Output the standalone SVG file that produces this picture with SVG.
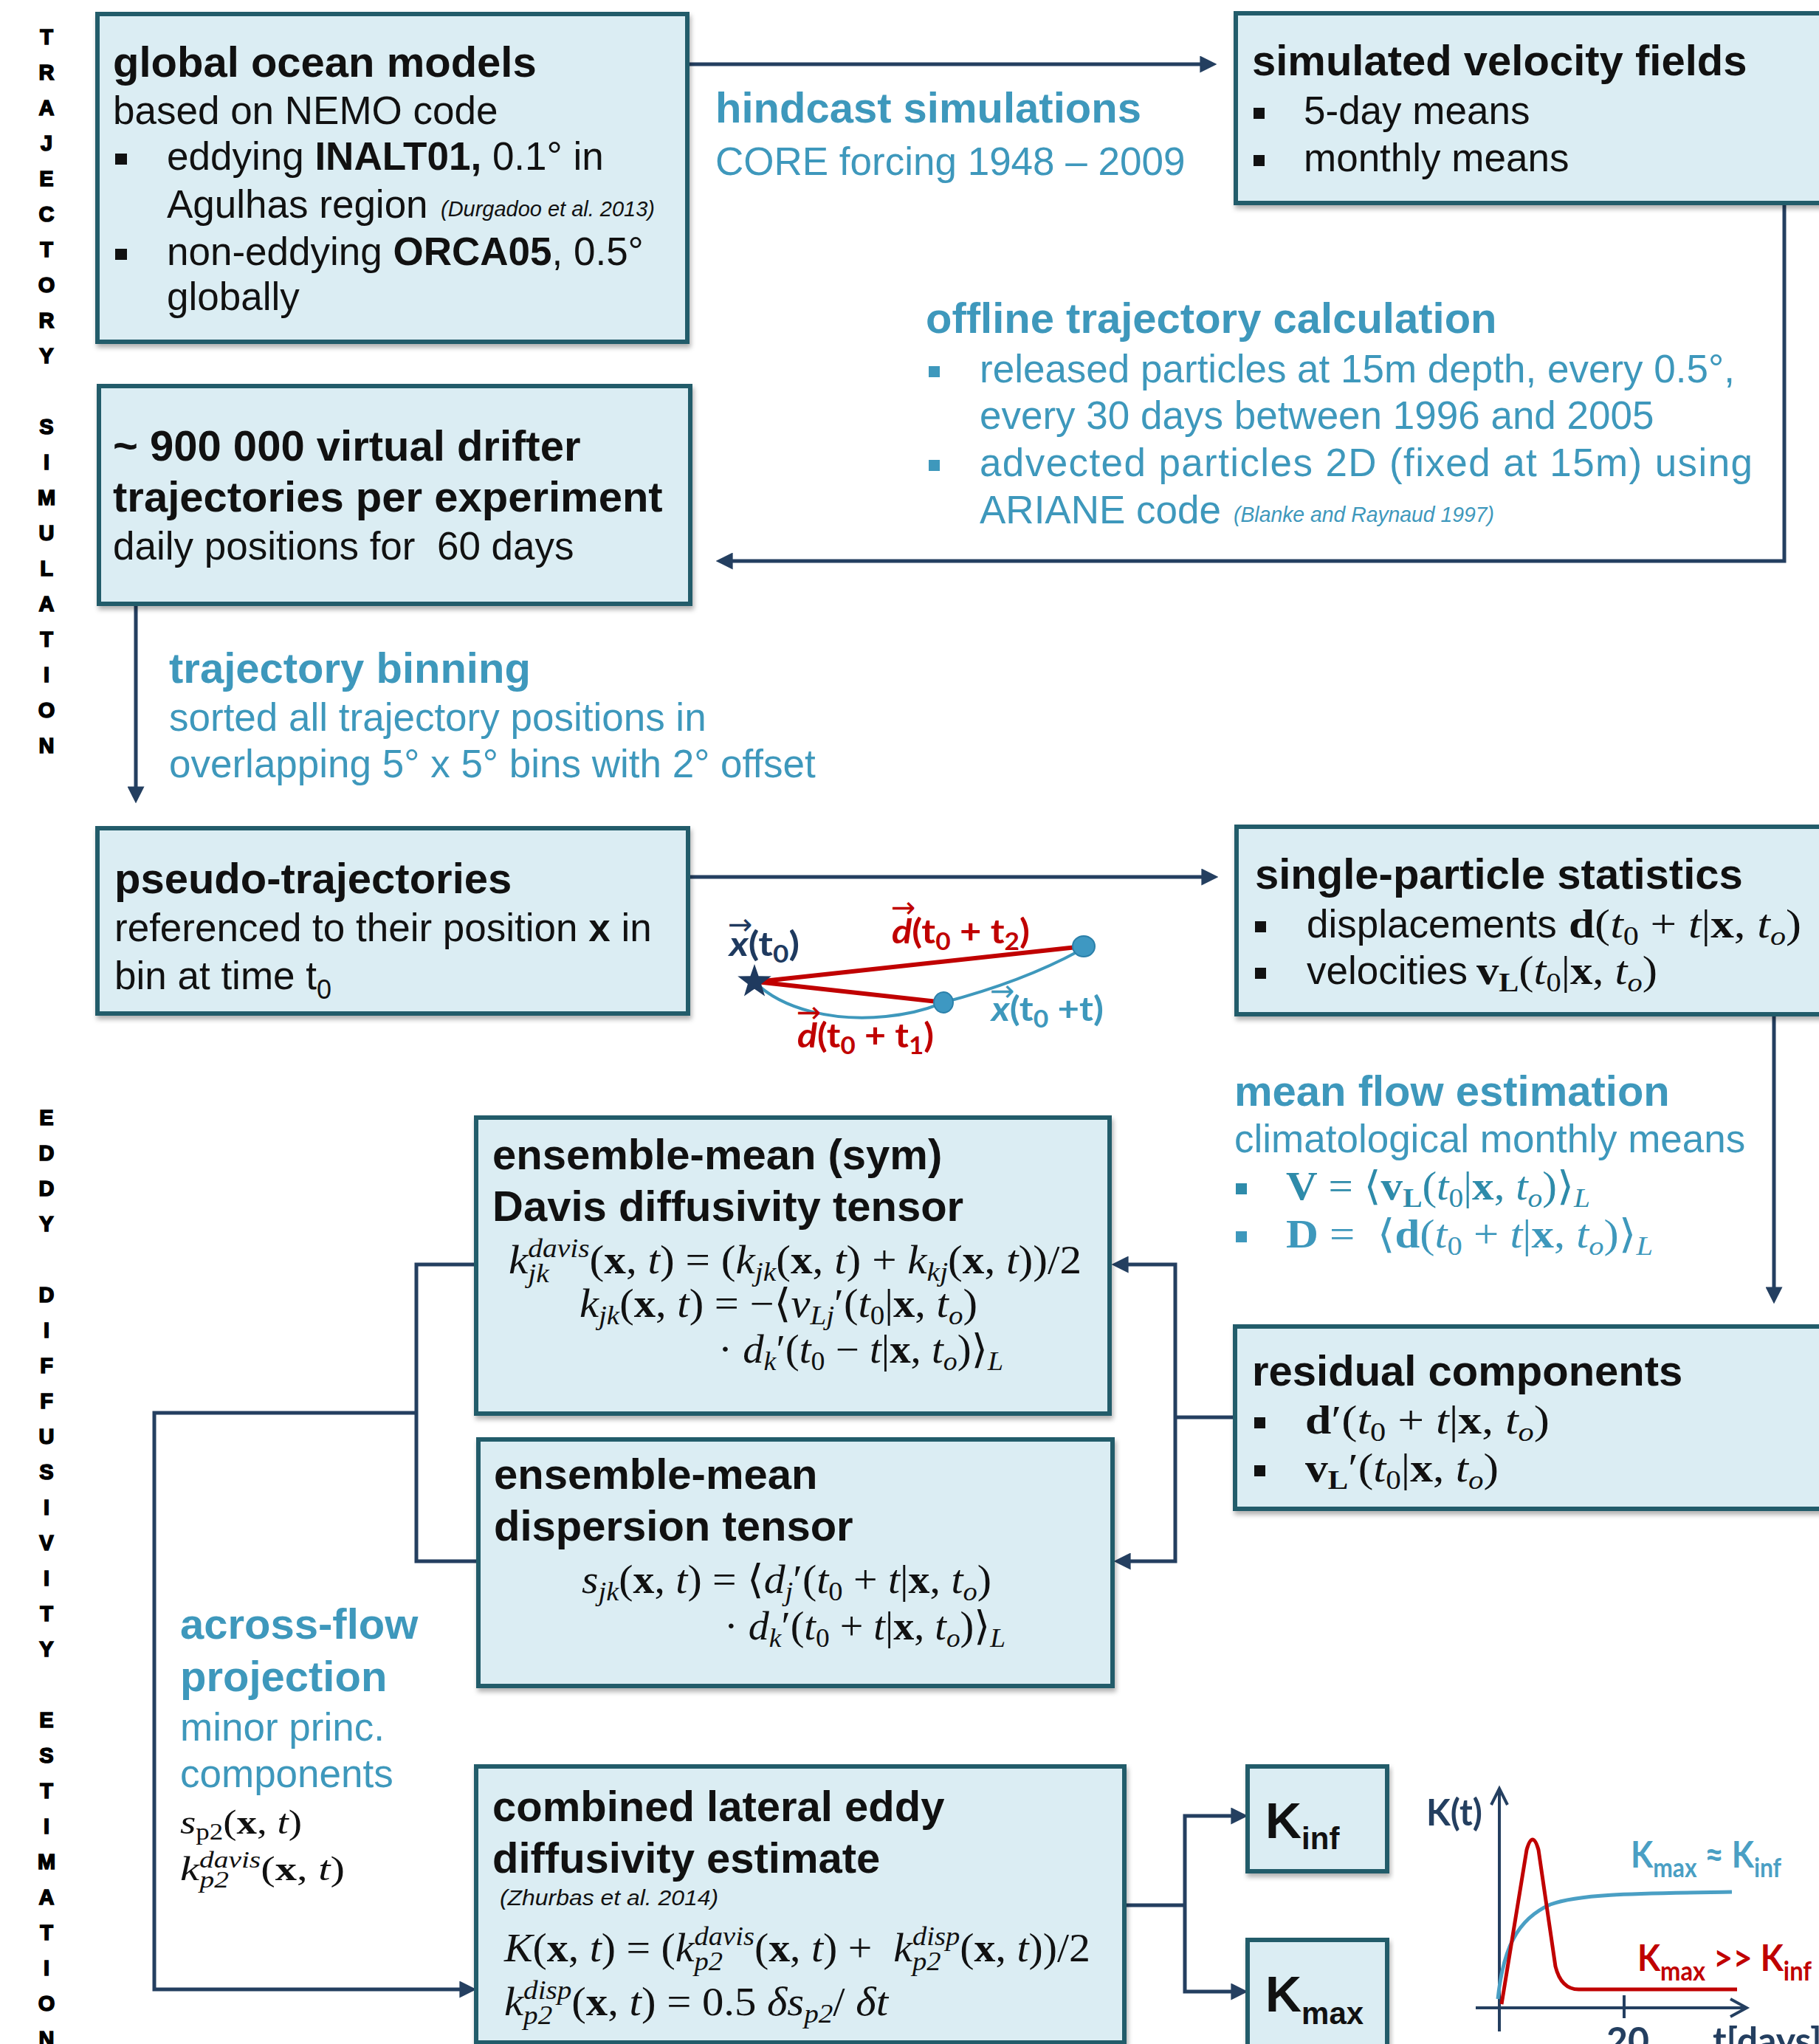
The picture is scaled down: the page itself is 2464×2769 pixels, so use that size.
<svg xmlns="http://www.w3.org/2000/svg" width="2464" height="2769" viewBox="0 0 2464 2769">
<defs>
<style>
.box{fill:#DBEDF3;stroke:#245B6A;stroke-width:6;filter:url(#sh)}
.h{font-family:"Liberation Sans",Arial,sans-serif;font-weight:bold;font-size:58px;fill:#111}
.t{font-family:"Liberation Sans",Arial,sans-serif;font-size:53px;fill:#111}
.bh{font-family:"Liberation Sans",Arial,sans-serif;font-weight:bold;font-size:58px;fill:#3E98BC}
.bt{font-family:"Liberation Sans",Arial,sans-serif;font-size:53px;fill:#3E98BC}
.cit{font-family:"Liberation Sans",Arial,sans-serif;font-style:italic;font-size:30px}
.m{font-family:"Liberation Serif","DejaVu Serif",serif;font-size:54px;fill:#111}
.i{font-style:italic}
.bd{font-weight:bold}
.sm{font-size:36px}
.sec{font-family:"Liberation Sans",Arial,sans-serif;font-weight:bold;font-size:29px;fill:#000;stroke:#000;stroke-width:1.6;text-anchor:middle}
.con{fill:none;stroke:#243F60;stroke-width:5}
.arr{marker-end:url(#ah)}
.lab{font-family:Lato,"Open Sans",sans-serif;font-weight:bold}
.acc{font-family:"DejaVu Sans",sans-serif;font-size:40px}
.bul{fill:#111}
.bbul{fill:#3E98BC}
</style>
<filter id="sh" x="-3%" y="-3%" width="108%" height="115%"><feDropShadow dx="2" dy="5" stdDeviation="3" flood-color="#000" flood-opacity="0.3"/></filter>
<marker id="ah" viewBox="0 0 10 10" refX="2" refY="5" markerWidth="4.6" markerHeight="4.6" orient="auto" markerUnits="strokeWidth"><path d="M0,0 L10,5 L0,10 z" fill="#243F60"/></marker>
</defs>
<rect width="2464" height="2769" fill="#fff"/>

<g id="section-labels">
<text class="sec"><tspan x="63" y="60">T</tspan><tspan x="63" y="108">R</tspan><tspan x="63" y="156">A</tspan><tspan x="63" y="204">J</tspan><tspan x="63" y="252">E</tspan><tspan x="63" y="300">C</tspan><tspan x="63" y="348">T</tspan><tspan x="63" y="396">O</tspan><tspan x="63" y="444">R</tspan><tspan x="63" y="492">Y</tspan></text>
<text class="sec"><tspan x="63" y="588">S</tspan><tspan x="63" y="636">I</tspan><tspan x="63" y="684">M</tspan><tspan x="63" y="732">U</tspan><tspan x="63" y="780">L</tspan><tspan x="63" y="828">A</tspan><tspan x="63" y="876">T</tspan><tspan x="63" y="924">I</tspan><tspan x="63" y="972">O</tspan><tspan x="63" y="1020">N</tspan></text>
<text class="sec"><tspan x="63" y="1524">E</tspan><tspan x="63" y="1572">D</tspan><tspan x="63" y="1620">D</tspan><tspan x="63" y="1668">Y</tspan></text>
<text class="sec"><tspan x="63" y="1764">D</tspan><tspan x="63" y="1812">I</tspan><tspan x="63" y="1860">F</tspan><tspan x="63" y="1908">F</tspan><tspan x="63" y="1956">U</tspan><tspan x="63" y="2004">S</tspan><tspan x="63" y="2052">I</tspan><tspan x="63" y="2100">V</tspan><tspan x="63" y="2148">I</tspan><tspan x="63" y="2196">T</tspan><tspan x="63" y="2244">Y</tspan></text>
<text class="sec"><tspan x="63" y="2340">E</tspan><tspan x="63" y="2388">S</tspan><tspan x="63" y="2436">T</tspan><tspan x="63" y="2484">I</tspan><tspan x="63" y="2532">M</tspan><tspan x="63" y="2580">A</tspan><tspan x="63" y="2628">T</tspan><tspan x="63" y="2676">I</tspan><tspan x="63" y="2724">O</tspan><tspan x="63" y="2772">N</tspan></text>
</g>

<g id="connectors">
<path class="con arr" d="M931,87 H1630"/>
<path class="con arr" d="M2417,275 V760 H988"/>
<path class="con arr" d="M184,818 V1070"/>
<path class="con arr" d="M932,1188 H1632"/>
<path class="con arr" d="M2403,1374 V1748"/>
<path class="con" d="M1673,1920 H1592"/>
<path class="con arr" d="M1592,1920 V1713 H1524"/>
<path class="con arr" d="M1592,1920 V2115 H1527"/>
<path class="con" d="M645,1713 H564 V2115 H648"/>
<path class="con arr" d="M564,1914 H209 V2695 H627"/>
<path class="con" d="M1523,2581 H1605"/>
<path class="con arr" d="M1605,2581 V2460 H1672"/>
<path class="con arr" d="M1605,2581 V2698 H1672"/>
</g>

<g id="n-global">
<rect class="box" x="132" y="19" width="799" height="444"/>
<text class="h" x="153" y="104">global ocean models</text>
<text class="t" x="153" y="168">based on NEMO code</text>
<rect class="bul" x="156" y="208" width="16" height="15"/>
<text class="t" x="226" y="230">eddying <tspan font-weight="bold">INALT01,</tspan> 0.1° in</text>
<text class="t" x="226" y="295">Agulhas region</text>
<text class="cit" x="597" y="293" fill="#111" textLength="290" lengthAdjust="spacingAndGlyphs">(Durgadoo et al. 2013)</text>
<rect class="bul" x="156" y="337" width="16" height="15"/>
<text class="t" x="226" y="359">non-eddying <tspan font-weight="bold">ORCA05</tspan>, 0.5°</text>
<text class="t" x="226" y="420">globally</text>
</g>

<g id="l-hindcast">
<text class="bh" x="969" y="166">hindcast simulations</text>
<text class="bt" x="969" y="237">CORE forcing 1948 – 2009</text>
</g>

<g id="n-velocity">
<rect class="box" x="1674" y="18" width="830" height="257"/>
<text class="h" x="1696" y="102">simulated velocity fields</text>
<rect class="bul" x="1698" y="146" width="15" height="15"/>
<text class="t" x="1766" y="168">5-day means</text>
<rect class="bul" x="1698" y="210" width="15" height="15"/>
<text class="t" x="1766" y="232">monthly means</text>
</g>

<g id="l-offline">
<text class="bh" x="1254" y="451">offline trajectory calculation</text>
<rect class="bbul" x="1258" y="496" width="15" height="15"/>
<text class="bt" x="1327" y="518">released particles at 15m depth, every 0.5°,</text>
<text class="bt" x="1327" y="581">every 30 days between 1996 and 2005</text>
<rect class="bbul" x="1258" y="623" width="15" height="15"/>
<text class="bt" x="1327" y="645" textLength="1047" lengthAdjust="spacing">advected particles 2D (fixed at 15m) using</text>
<text class="bt" x="1327" y="709">ARIANE code</text>
<text class="cit" x="1671" y="707" fill="#3E98BC" textLength="353" lengthAdjust="spacingAndGlyphs">(Blanke and Raynaud 1997)</text>
</g>

<g id="n-drifters">
<rect class="box" x="134" y="523" width="801" height="295"/>
<text class="h" x="153" y="624">~ 900 000 virtual drifter</text>
<text class="h" x="153" y="693">trajectories per experiment</text>
<text class="t" x="153" y="758">daily positions for &#160;60 days</text>
</g>

<g id="l-binning">
<text class="bh" x="229" y="925">trajectory binning</text>
<text class="bt" x="229" y="990">sorted all trajectory positions in</text>
<text class="bt" x="229" y="1053">overlapping 5° x 5° bins with 2° offset</text>
</g>

<g id="n-pseudo">
<rect class="box" x="132" y="1122" width="800" height="251"/>
<text class="h" x="155" y="1210">pseudo-trajectories</text>
<text class="t" x="155" y="1275">referenced to their position <tspan font-weight="bold">x</tspan> in</text>
<text class="t" x="155" y="1340">bin at time t<tspan font-size="36" dy="13">0</tspan></text>
</g>

<g id="sketch">
<path d="M1025,1330 L1468,1282" stroke="#C00000" stroke-width="6" fill="none"/>
<path d="M1025,1330 L1278,1358" stroke="#C00000" stroke-width="6" fill="none"/>
<path d="M1022,1330 C1060,1368 1130,1384 1200,1377 C1240,1373 1262,1365 1278,1358 Q1385,1330 1462,1288" stroke="#3E98BC" stroke-width="4" fill="none"/>
<ellipse cx="1468" cy="1282" rx="15" ry="14" fill="#3E98C2" stroke="#2B80AA" stroke-width="2"/>
<ellipse cx="1278" cy="1358" rx="13" ry="14" fill="#3E98C2" stroke="#2B80AA" stroke-width="2"/>
<path d="M1022,1306 L1027.6,1322.3 L1044.8,1322.6 L1031.1,1333 L1036.1,1349.5 L1022,1339.7 L1007.9,1349.5 L1012.9,1333 L999.2,1322.6 L1016.4,1322.3 Z" fill="#1F3A5F"/>
<text class="acc" x="986" y="1266" fill="#1F3A5F">→</text>
<text class="lab" x="988" y="1295" font-size="46" fill="#1F3A5F" textLength="95" lengthAdjust="spacingAndGlyphs"><tspan font-style="italic">x</tspan>(t<tspan font-size="32" dy="9">0</tspan><tspan dy="-9">)</tspan></text>
<text class="acc" x="1207" y="1243" fill="#C00000">→</text>
<text class="lab" x="1208" y="1278" font-size="46" fill="#C00000" textLength="187" lengthAdjust="spacingAndGlyphs"><tspan font-style="italic">d</tspan>(t<tspan font-size="32" dy="9">0</tspan><tspan dy="-9"> + t</tspan><tspan font-size="32" dy="9">2</tspan><tspan dy="-9">)</tspan></text>
<text class="acc" x="1079" y="1385" fill="#C00000">→</text>
<text class="lab" x="1080" y="1419" font-size="46" fill="#C00000" textLength="185" lengthAdjust="spacingAndGlyphs"><tspan font-style="italic">d</tspan>(t<tspan font-size="32" dy="9">0</tspan><tspan dy="-9"> + t</tspan><tspan font-size="32" dy="9">1</tspan><tspan dy="-9">)</tspan></text>
<text class="acc" x="1341" y="1356" fill="#3E98BC">→</text>
<text class="lab" x="1343" y="1383" font-size="46" fill="#3E98BC" textLength="152" lengthAdjust="spacingAndGlyphs"><tspan font-style="italic">x</tspan>(t<tspan font-size="32" dy="9">0</tspan><tspan dy="-9"> +t)</tspan></text>
</g>

<g id="n-single">
<rect class="box" x="1675" y="1120" width="830" height="254"/>
<text class="h" x="1700" y="1204">single-particle statistics</text>
<rect class="bul" x="1700" y="1248" width="15" height="15"/>
<text class="t" x="1770" y="1270">displacements</text>
<text class="m" x="2125" y="1270" textLength="315" lengthAdjust="spacingAndGlyphs"><tspan class="bd">d</tspan>(<tspan class="i">t</tspan><tspan class="sm" dy="10">0</tspan><tspan dy="-10"> + </tspan><tspan class="i">t</tspan>|<tspan class="bd">x</tspan>, <tspan class="i">t</tspan><tspan class="i sm" dy="10">o</tspan><tspan dy="-10">)</tspan></text>
<rect class="bul" x="1700" y="1311" width="15" height="15"/>
<text class="t" x="1770" y="1333">velocities</text>
<text class="m" x="2000" y="1333" textLength="245" lengthAdjust="spacingAndGlyphs"><tspan class="bd">v</tspan><tspan class="bd sm" dy="10">L</tspan><tspan dy="-10">(</tspan><tspan class="i">t</tspan><tspan class="sm" dy="10">0</tspan><tspan dy="-10">|</tspan><tspan class="bd">x</tspan>, <tspan class="i">t</tspan><tspan class="i sm" dy="10">o</tspan><tspan dy="-10">)</tspan></text>
</g>

<g id="l-meanflow">
<text class="bh" x="1672" y="1498">mean flow estimation</text>
<text class="bt" x="1672" y="1561">climatological monthly means</text>
<rect x="1674" y="1603" width="15" height="15" fill="#2E8BAA"/>
<text class="m" x="1742" y="1625" style="fill:#2E8BAA" textLength="412" lengthAdjust="spacingAndGlyphs"><tspan class="bd">V</tspan> = ⟨<tspan class="bd">v</tspan><tspan class="bd sm" dy="10">L</tspan><tspan dy="-10">(</tspan><tspan class="i">t</tspan><tspan class="sm" dy="10">0</tspan><tspan dy="-10">|</tspan><tspan class="bd">x</tspan>, <tspan class="i">t</tspan><tspan class="i sm" dy="10">o</tspan><tspan dy="-10">)⟩</tspan><tspan class="i sm" dy="10">L</tspan></text>
<rect class="bbul" x="1674" y="1668" width="15" height="15"/>
<text class="m" x="1742" y="1690" style="fill:#3E98BC" textLength="497" lengthAdjust="spacingAndGlyphs"><tspan class="bd">D</tspan> = &#160;⟨<tspan class="bd">d</tspan>(<tspan class="i">t</tspan><tspan class="sm" dy="10">0</tspan><tspan dy="-10"> + </tspan><tspan class="i">t</tspan>|<tspan class="bd">x</tspan>, <tspan class="i">t</tspan><tspan class="i sm" dy="10">o</tspan><tspan dy="-10">)⟩</tspan><tspan class="i sm" dy="10">L</tspan></text>
</g>

<g id="n-residual">
<rect class="box" x="1673" y="1797" width="830" height="247"/>
<text class="h" x="1696" y="1877">residual components</text>
<rect class="bul" x="1699" y="1920" width="15" height="15"/>
<text class="m" x="1768" y="1942" textLength="331" lengthAdjust="spacingAndGlyphs"><tspan class="bd">d</tspan>′(<tspan class="i">t</tspan><tspan class="sm" dy="10">0</tspan><tspan dy="-10"> + </tspan><tspan class="i">t</tspan>|<tspan class="bd">x</tspan>, <tspan class="i">t</tspan><tspan class="i sm" dy="10">o</tspan><tspan dy="-10">)</tspan></text>
<rect class="bul" x="1699" y="1985" width="15" height="15"/>
<text class="m" x="1768" y="2007" textLength="262" lengthAdjust="spacingAndGlyphs"><tspan class="bd">v</tspan><tspan class="bd sm" dy="10">L</tspan><tspan dy="-10">′(</tspan><tspan class="i">t</tspan><tspan class="sm" dy="10">0</tspan><tspan dy="-10">|</tspan><tspan class="bd">x</tspan>, <tspan class="i">t</tspan><tspan class="i sm" dy="10">o</tspan><tspan dy="-10">)</tspan></text>
</g>

<g id="n-davis">
<rect class="box" x="645" y="1514" width="858" height="401"/>
<text class="h" x="667" y="1584">ensemble-mean (sym)</text>
<text class="h" x="667" y="1654">Davis diffusivity tensor</text>
<text class="m" x="689" y="1725" textLength="776" lengthAdjust="spacingAndGlyphs"><tspan class="i">k</tspan><tspan class="i sm" dy="-22">davis</tspan><tspan class="i sm" dx="-76" dy="34">jk</tspan><tspan dx="50" dy="-12">(</tspan><tspan class="bd">x</tspan>, <tspan class="i">t</tspan>) = (<tspan class="i">k</tspan><tspan class="i sm" dy="10">jk</tspan><tspan dy="-10">(</tspan><tspan class="bd">x</tspan>, <tspan class="i">t</tspan>) + <tspan class="i">k</tspan><tspan class="i sm" dy="10">kj</tspan><tspan dy="-10">(</tspan><tspan class="bd">x</tspan>, <tspan class="i">t</tspan>))/2</text>
<text class="m" x="785" y="1784" textLength="539" lengthAdjust="spacingAndGlyphs"><tspan class="i">k</tspan><tspan class="i sm" dy="10">jk</tspan><tspan dy="-10">(</tspan><tspan class="bd">x</tspan>, <tspan class="i">t</tspan>) = −⟨<tspan class="i">v</tspan><tspan class="i sm" dy="10">Lj</tspan><tspan dy="-10">′(</tspan><tspan class="i">t</tspan><tspan class="sm" dy="10">0</tspan><tspan dy="-10">|</tspan><tspan class="bd">x</tspan>, <tspan class="i">t</tspan><tspan class="i sm" dy="10">o</tspan><tspan dy="-10">)</tspan></text>
<text class="m" x="973" y="1846" textLength="386" lengthAdjust="spacingAndGlyphs">· <tspan class="i">d</tspan><tspan class="i sm" dy="10">k</tspan><tspan dy="-10">′(</tspan><tspan class="i">t</tspan><tspan class="sm" dy="10">0</tspan><tspan dy="-10"> − </tspan><tspan class="i">t</tspan>|<tspan class="bd">x</tspan>, <tspan class="i">t</tspan><tspan class="i sm" dy="10">o</tspan><tspan dy="-10">)⟩</tspan><tspan class="i sm" dy="10">L</tspan></text>
</g>

<g id="n-dispersion">
<rect class="box" x="648" y="1950" width="859" height="334"/>
<text class="h" x="669" y="2017">ensemble-mean</text>
<text class="h" x="669" y="2087">dispersion tensor</text>
<text class="m" x="788" y="2158" textLength="555" lengthAdjust="spacingAndGlyphs"><tspan class="i">s</tspan><tspan class="i sm" dy="10">jk</tspan><tspan dy="-10">(</tspan><tspan class="bd">x</tspan>, <tspan class="i">t</tspan>) = ⟨<tspan class="i">d</tspan><tspan class="i sm" dy="10">j</tspan><tspan dy="-10">′(</tspan><tspan class="i">t</tspan><tspan class="sm" dy="10">0</tspan><tspan dy="-10"> + </tspan><tspan class="i">t</tspan>|<tspan class="bd">x</tspan>, <tspan class="i">t</tspan><tspan class="i sm" dy="10">o</tspan><tspan dy="-10">)</tspan></text>
<text class="m" x="981" y="2221" textLength="381" lengthAdjust="spacingAndGlyphs">· <tspan class="i">d</tspan><tspan class="i sm" dy="10">k</tspan><tspan dy="-10">′(</tspan><tspan class="i">t</tspan><tspan class="sm" dy="10">0</tspan><tspan dy="-10"> + </tspan><tspan class="i">t</tspan>|<tspan class="bd">x</tspan>, <tspan class="i">t</tspan><tspan class="i sm" dy="10">o</tspan><tspan dy="-10">)⟩</tspan><tspan class="i sm" dy="10">L</tspan></text>
</g>

<g id="l-acrossflow">
<text class="bh" x="244" y="2220">across-flow</text>
<text class="bh" x="244" y="2291">projection</text>
<text class="bt" x="244" y="2358">minor princ.</text>
<text class="bt" x="244" y="2421">components</text>
<text class="m" x="244" y="2484" style="font-size:46px" textLength="165" lengthAdjust="spacingAndGlyphs"><tspan class="i">s</tspan><tspan dy="8" style="font-size:31px">p2</tspan><tspan dy="-8">(</tspan><tspan class="bd">x</tspan>, <tspan class="i">t</tspan>)</text>
<text class="m" x="244" y="2547" style="font-size:46px" textLength="223" lengthAdjust="spacingAndGlyphs"><tspan class="i">k</tspan><tspan class="i" style="font-size:31px" dy="-17">davis</tspan><tspan class="i" style="font-size:31px" dx="-65" dy="27">p2</tspan><tspan dx="34" dy="-10">(</tspan><tspan class="bd">x</tspan>, <tspan class="i">t</tspan>)</text>
</g>

<g id="n-combined">
<rect class="box" x="645" y="2393" width="878" height="374"/>
<text class="h" x="667" y="2467">combined lateral eddy</text>
<text class="h" x="667" y="2537">diffusivity estimate</text>
<text class="cit" x="677" y="2581" fill="#111" textLength="296" lengthAdjust="spacingAndGlyphs">(Zhurbas et al. 2014)</text>
<text class="m" x="683" y="2657" textLength="794" lengthAdjust="spacingAndGlyphs"><tspan class="i">K</tspan>(<tspan class="bd">x</tspan>, <tspan class="i">t</tspan>) = (<tspan class="i">k</tspan><tspan class="i sm" dy="-22">davis</tspan><tspan class="i sm" dx="-76" dy="34">p2</tspan><tspan dx="40" dy="-12">(</tspan><tspan class="bd">x</tspan>, <tspan class="i">t</tspan>) + &#160;<tspan class="i">k</tspan><tspan class="i sm" dy="-22">disp</tspan><tspan class="i sm" dx="-60" dy="34">p2</tspan><tspan dx="24" dy="-12">(</tspan><tspan class="bd">x</tspan>, <tspan class="i">t</tspan>))/2</text>
<text class="m" x="683" y="2730" textLength="520" lengthAdjust="spacingAndGlyphs"><tspan class="i">k</tspan><tspan class="i sm" dy="-22">disp</tspan><tspan class="i sm" dx="-60" dy="34">p2</tspan><tspan dx="24" dy="-12">(</tspan><tspan class="bd">x</tspan>, <tspan class="i">t</tspan>) = 0.5 <tspan class="i">δs</tspan><tspan class="i sm" dy="10">p2</tspan><tspan dy="-10">/ </tspan><tspan class="i">δt</tspan></text>
</g>

<g id="n-kinf">
<rect class="box" x="1690" y="2393" width="189" height="142"/>
<text class="h" x="1714" y="2490" style="font-size:68px">K<tspan style="font-size:42px" dy="15">inf</tspan></text>
</g>

<g id="n-kmax">
<rect class="box" x="1690" y="2628" width="189" height="170"/>
<text class="h" x="1714" y="2725" style="font-size:68px">K<tspan style="font-size:42px" dy="17">max</tspan></text>
</g>

<g id="graph">
<path d="M2031,2752 V2425 M2020,2445 L2031,2423 L2042,2445" stroke="#243F60" stroke-width="4" fill="none"/>
<path d="M1999,2720 H2364 M2344,2708 L2366,2720 L2344,2732" stroke="#243F60" stroke-width="4" fill="none"/>
<path d="M2200,2703 V2734" stroke="#243F60" stroke-width="4"/>
<path d="M2029,2708 C2036,2640 2055,2600 2100,2580 C2140,2565 2220,2565 2346,2563" stroke="#4A9FC4" stroke-width="5" fill="none"/>
<path d="M2034,2715 L2068,2506 Q2076,2478 2084,2506 L2107,2664 Q2115,2696 2140,2695 L2353,2695" stroke="#C00000" stroke-width="5" fill="none"/>
<text class="lab" x="1932" y="2473" font-size="50" fill="#243F60" textLength="76" lengthAdjust="spacingAndGlyphs">K(t)</text>
<text class="lab" x="2209" y="2530" font-size="50" fill="#4A9FC4" textLength="204" lengthAdjust="spacingAndGlyphs">K<tspan font-size="36" dy="13">max</tspan><tspan dy="-13"> ≈ K</tspan><tspan font-size="36" dy="13">inf</tspan></text>
<text class="lab" x="2218" y="2670" font-size="50" fill="#C00000" textLength="236" lengthAdjust="spacingAndGlyphs">K<tspan font-size="36" dy="13">max</tspan><tspan dy="-13"> &gt;&gt; K</tspan><tspan font-size="36" dy="13">inf</tspan></text>
<text class="lab" x="2205" y="2782" font-size="50" fill="#243F60" text-anchor="middle">20</text>
<text class="lab" x="2320" y="2782" font-size="50" fill="#243F60">t[days]</text>
</g>
</svg>
